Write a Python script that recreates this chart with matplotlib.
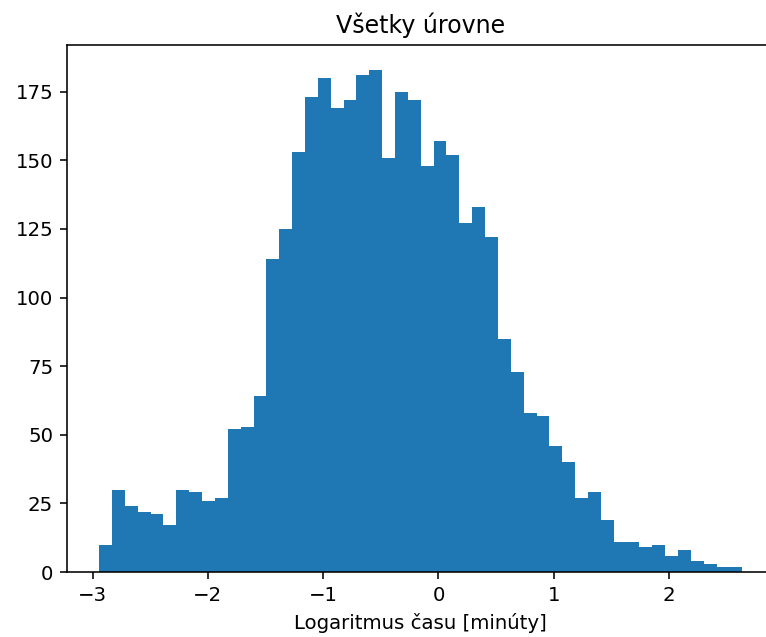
import numpy as np
import matplotlib
matplotlib.use("Agg")
import matplotlib.pyplot as plt

# histogram counts (50 bins)
counts = [10, 30, 24, 22, 21, 17, 30, 29, 26, 27,
          52, 53, 64, 114, 125, 153, 173, 180, 169, 172,
          181, 183, 151, 175, 172, 148, 157, 152, 127, 133,
          122, 85, 73, 58, 57, 46, 40, 27, 29, 19,
          11, 11, 9, 10, 6, 8, 4, 3, 2, 2]
x_min = -2.943
x_max = 2.636

edges = np.linspace(x_min, x_max, len(counts) + 1)
centers = (edges[:-1] + edges[1:]) / 2

dpi = 142.5
fig = plt.figure(figsize=(766 / dpi, 637 / dpi), dpi=dpi)
# axes runs a bit past the right edge, like the cropped screenshot
ax = fig.add_axes([67 / 766, 65 / 637, 707.5 / 766, 527.3 / 637])

ax.hist(centers, bins=edges, weights=counts)
ax.set_title("Všetky úrovne")
ax.set_xlabel("Logaritmus času [minúty]")

fig.savefig("out.png", dpi=dpi)
